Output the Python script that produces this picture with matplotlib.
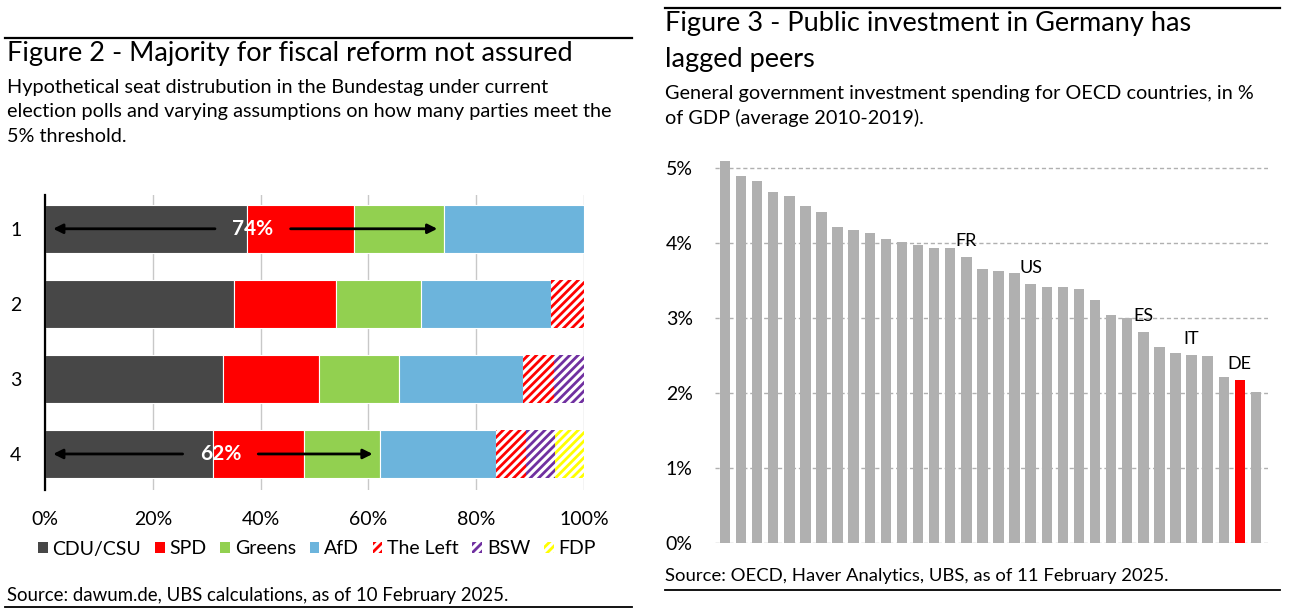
import matplotlib
matplotlib.use("Agg")
import matplotlib.pyplot as plt
from matplotlib.patches import Patch
from matplotlib.lines import Line2D
import numpy as np

plt.rcParams['font.family'] = ['Lato', 'DejaVu Sans']
plt.rcParams['hatch.linewidth'] = 2.0

# ---- Figure 2 data: seat shares (%) per scenario ----
scenarios = ['1', '2', '3', '4']
parties = ['CDU/CSU', 'SPD', 'Greens', 'AfD', 'The Left', 'BSW', 'FDP']
cdu = [37.4, 35.1, 33.0, 31.2]
spd = [20.0, 18.8, 17.9, 16.9]
greens = [16.7, 15.8, 14.8, 14.0]
afd = [25.9, 24.2, 23.0, 21.6]
the_left = [0.0, 6.1, 5.7, 5.5]
bsw = [0.0, 0.0, 5.6, 5.4]
fdp = [0.0, 0.0, 0.0, 5.4]
majority_rows = [0, 3]   # scenarios with the CDU+SPD+Greens arrow

# ---- Figure 3 data: investment spending, % of GDP ----
invest = [5.10, 4.89, 4.83, 4.68, 4.63, 4.50, 4.42, 4.21, 4.18, 4.13, 4.06,
          4.01, 3.98, 3.94, 3.93, 3.82, 3.66, 3.63, 3.60, 3.46, 3.42, 3.41,
          3.39, 3.24, 3.04, 3.00, 2.82, 2.62, 2.53, 2.51, 2.49, 2.22, 2.18, 2.01]
country = [''] * len(invest)
country[15] = 'FR'
country[19] = 'US'
country[26] = 'ES'
country[29] = 'IT'
country[32] = 'DE'

W, H = 1295, 613
fig = plt.figure(figsize=(W / 100, H / 100), dpi=100)

def px(x0, y0, x1, y1):
    # pixel box (top-left origin) -> figure rect
    return [x0 / W, 1 - y1 / H, (x1 - x0) / W, (y1 - y0) / H]

def hline(x0, x1, y, lw=1.6):
    fig.add_artist(Line2D([x0 / W, x1 / W], [1 - y / H, 1 - y / H], color='black', lw=lw))

def ftext(x, y, s, **kw):
    fig.text(x / W, 1 - y / H, s, **kw)

# ================= Left panel =================
hline(5, 632, 38)
hline(5, 632, 607, lw=1.3)
ftext(7, 54, 'Figure 2 - Majority for fiscal reform not assured', fontsize=19.5, va='center')
ftext(7, 87, 'Hypothetical seat distrubution in the Bundestag under current', fontsize=14.3, va='center')
ftext(7, 112, 'election polls and varying assumptions on how many parties meet the', fontsize=14.3, va='center')
ftext(7, 137, '5% threshold.', fontsize=14.3, va='center')
ftext(7, 596, 'Source: dawum.de, UBS calculations, as of 10 February 2025.', fontsize=13.4, va='center')

ax = fig.add_axes(px(45, 195, 584, 490))
series = [cdu, spd, greens, afd, the_left, bsw, fdp]
solid = ['#474747', '#ff0000', '#92d050', '#6cb4dc']
hatched = ['#ff0000', '#7030a0', '#ffff00']
y = np.arange(len(scenarios))
left = np.zeros(len(scenarios))
for i, vals in enumerate(series):
    vals = np.array(vals)
    if i < 4:
        ax.barh(y, vals, left=left, height=0.64, color=solid[i],
                edgecolor='white', linewidth=0.8, zorder=2)
    else:
        mask = vals > 0
        ax.barh(y[mask], vals[mask], left=left[mask], height=0.64,
                facecolor='white', edgecolor=hatched[i - 4], hatch='////',
                linewidth=0, zorder=2)
    left = left + vals

for r in majority_rows:
    share = cdu[r] + spd[r] + greens[r]
    mid = share / 2 + 1.5
    ax.text(mid, r, f'{share:.0f}%', color='white', fontsize=15, fontweight='bold',
            ha='center', va='center', zorder=4)
    ax.annotate('', xy=(1.0, r), xytext=(mid - 6.5, r),
                arrowprops=dict(arrowstyle='-|>', color='black', lw=2, mutation_scale=14), zorder=3)
    ax.annotate('', xy=(share - 0.8, r), xytext=(mid + 6.5, r),
                arrowprops=dict(arrowstyle='-|>', color='black', lw=2, mutation_scale=14), zorder=3)

ax.set_xlim(0, 100)
ax.set_ylim(3.48, -0.45)
ax.set_yticks(y)
ax.set_yticklabels(scenarios)
ax.set_xticks(np.arange(0, 101, 20))
ax.set_xticklabels([f'{v}%' for v in range(0, 101, 20)])
ax.tick_params(axis='both', length=0, labelsize=14)
ax.tick_params(axis='y', pad=17)
ax.tick_params(axis='x', pad=15)
ax.grid(axis='x', color='#c8c8c8', lw=1, zorder=0)
for s in ['top', 'right', 'bottom']:
    ax.spines[s].set_visible(False)
ax.spines['left'].set_linewidth(1.6)

handles = [Patch(facecolor=c, edgecolor='none') for c in solid] + \
          [Patch(facecolor='white', edgecolor=c, hatch='////', linewidth=0) for c in hatched]
fig.legend(handles, parties, loc='center', bbox_to_anchor=(317 / W, 1 - 549 / H),
           ncol=7, frameon=False, fontsize=14, handlelength=0.5, handleheight=0.5,
           handletextpad=0.25, columnspacing=0.7)

# ================= Right panel =================
hline(665, 1280, 8)
hline(665, 1280, 590, lw=1.3)
ftext(665, 24, 'Figure 3 - Public investment in Germany has', fontsize=19.5, va='center')
ftext(665, 60, 'lagged peers', fontsize=19.5, va='center')
ftext(665, 93, 'General government investment spending for OECD countries, in %', fontsize=14.3, va='center')
ftext(665, 118, 'of GDP (average 2010-2019).', fontsize=14.3, va='center')
ftext(665, 576, 'Source: OECD, Haver Analytics, UBS, as of 11 February 2025.', fontsize=13.3, va='center')

ax2 = fig.add_axes(px(715, 153, 1268, 543))
xs = np.arange(len(invest))
colors = ['#ff0000' if c == 'DE' else '#b0b0b0' for c in country]
ax2.bar(xs, invest, width=0.65, color=colors, zorder=2)
for i, c in enumerate(country):
    if c:
        ax2.text(i, invest[i] + 0.1, c, ha='center', va='bottom', fontsize=13, zorder=3)
ax2.set_xlim(-0.62, len(invest) - 0.25)
ax2.set_ylim(0, 5.2)
ax2.set_yticks(range(0, 6))
ax2.set_yticklabels([f'{v}%' for v in range(0, 6)])
ax2.set_xticks([])
ax2.tick_params(axis='y', length=0, labelsize=14, pad=16)
ax2.grid(axis='y', color='#b0b0b0', lw=1, ls=(0, (3, 2)), zorder=0)
for s in ax2.spines.values():
    s.set_visible(False)

fig.savefig('out.png', dpi=100)
